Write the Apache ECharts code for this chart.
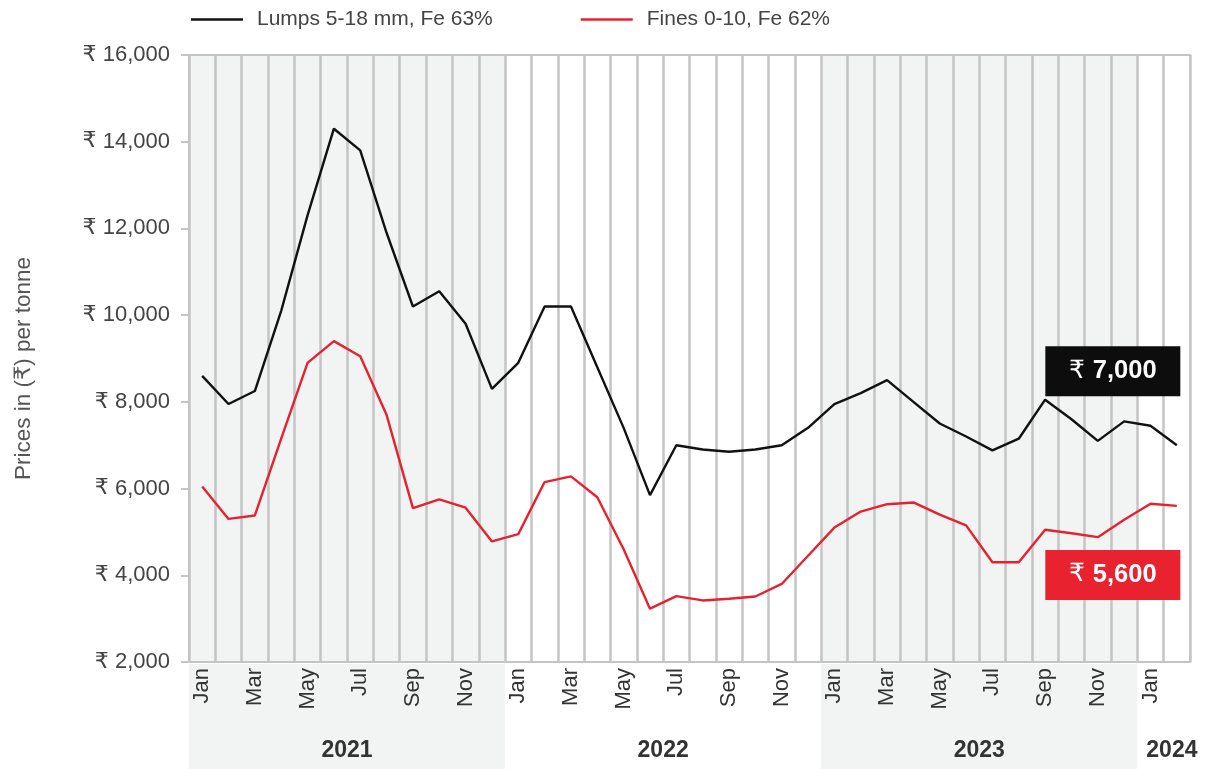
<!DOCTYPE html>
<html>
<head>
<meta charset="utf-8">
<script src="https://cdn.jsdelivr.net/npm/echarts@6/dist/echarts.min.js"></script>
<style>
  html, body { margin: 0; padding: 0; background: #ffffff; }
  #chart { width: 1208px; height: 769px; }
</style>
</head>
<body>
<div id="chart"></div>
<script>
// Monthly iron ore prices, Jan 2021 – Feb 2024 (₹ per tonne)
const monthNames = ['Jan', 'Feb', 'Mar', 'Apr', 'May', 'Jun', 'Jul', 'Aug', 'Sep', 'Oct', 'Nov', 'Dec'];
const yearLabels = ['2021', '2022', '2023', '2024'];
const monthsPerYear = [12, 12, 12, 2];

const lumpsPrices = [
  8600, 7950, 8250, 10100, 12300, 14300, 13800, 11900, 10200, 10550, 9800, 8300,
  8900, 10200, 10200, 8800, 7400, 5850, 7000, 6900, 6850, 6900, 7000, 7400,
  7950, 8200, 8500, 8000, 7500, 7200, 6880, 7150, 8050, 7600, 7100, 7550,
  7450, 7000
];
const finesPrices = [
  6050, 5300, 5380, 7150, 8900, 9400, 9050, 7700, 5550, 5750, 5560, 4780,
  4950, 6150, 6280, 5800, 4600, 3230, 3520, 3420, 3460, 3510, 3800, 4450,
  5100, 5470, 5640, 5680, 5400, 5150, 4300, 4300, 5050, 4970, 4880, 5280,
  5650, 5600
];

const seriesNames = ['Lumps 5-18 mm, Fe 63%', 'Fines 0-10, Fe 62%'];
const yMin = 2000, yMax = 16000, yStep = 2000;

// category labels such as "Jan 2021"
const categories = [];
const yearSpans = [];
yearLabels.forEach((y, i) => {
  const start = categories.length;
  for (let m = 0; m < monthsPerYear[i]; m++) categories.push(monthNames[m] + ' ' + y);
  yearSpans.push([start, categories.length, i]);
});

const FONT = '"Liberation Sans", Arial, "DejaVu Sans", sans-serif';
const RUPEE_FONT = '"DejaVu Sans", "Noto Sans", sans-serif';
const GRID_LINE = '#c4c4c4';
const SHADE = '#f2f3f3';

const chart = echarts.init(document.getElementById('chart'), null, { renderer: 'canvas' });

function lastPointMark(values, color, offsetY) {
  const last = values.length - 1;
  return {
    silent: true,
    symbol: 'rect',
    symbolSize: [135, 50],
    symbolOffset: [-64, offsetY],
    itemStyle: { color: color },
    label: {
      show: true,
      position: 'inside',
      formatter: p => '{r|₹ }{b|' + p.value.toLocaleString('en-US') + '}',
      rich: {
        r: { color: '#ffffff', fontSize: 25, fontFamily: RUPEE_FONT },
        b: { color: '#ffffff', fontSize: 25.5, fontWeight: 'bold', fontFamily: FONT }
      }
    },
    data: [{ coord: [categories[last], values[last]], value: values[last] }]
  };
}

chart.setOption({
  animation: false,
  backgroundColor: '#ffffff',
  textStyle: { fontFamily: FONT },
  legend: {
    left: 191,
    top: 9,
    padding: 0,
    icon: 'rect',
    itemWidth: 52,
    itemHeight: 2.5,
    itemGap: 88,
    textStyle: { fontSize: 21, color: '#444444', fontFamily: FONT, padding: [0, 0, 0, 9] },
    data: seriesNames
  },
  grid: {
    left: 189, right: 18, top: 55, bottom: 107,
    show: true, borderColor: GRID_LINE, borderWidth: 2, backgroundColor: 'transparent'
  },
  xAxis: [
    {
      type: 'category',
      data: categories,
      boundaryGap: true,
      axisLine: { show: true, lineStyle: { color: GRID_LINE, width: 2 } },
      axisTick: { show: false },
      splitLine: { show: true, interval: 0, lineStyle: { color: GRID_LINE, width: 2.5 } },
      axisLabel: {
        interval: 1,
        rotate: 90,
        margin: 6,
        fontSize: 22,
        color: '#333333',
        fontFamily: FONT,
        formatter: v => v.split(' ')[0]
      }
    },
    { type: 'value', min: 0, max: categories.length, show: false }
  ],
  yAxis: {
    type: 'value',
    min: yMin, max: yMax, interval: yStep,
    name: 'Prices in (₹) per tonne',
    nameLocation: 'middle',
    nameGap: 154,
    nameTextStyle: { fontSize: 22.5, color: '#555555', fontFamily: FONT, padding: [0, 20, 0, 0] },
    axisLine: { show: true, lineStyle: { color: GRID_LINE, width: 2 } },
    axisTick: { show: true, length: 8, lineStyle: { color: GRID_LINE, width: 2 } },
    splitLine: { show: false },
    axisLabel: {
      fontSize: 22, color: '#444444', margin: 19, fontFamily: FONT,
      formatter: v => '{r|₹} ' + v.toLocaleString('en-US'),
      rich: { r: { fontSize: 22, color: '#444444', fontFamily: RUPEE_FONT } }
    }
  },
  series: [
    {
      // alternating year shading inside the plot and in the year band below the axis
      type: 'custom',
      xAxisIndex: 1,
      yAxisIndex: 0,
      z: -1,
      silent: true,
      clip: false,
      data: yearSpans,
      renderItem: (params, api) => {
        const cs = params.coordSys;
        const x0 = api.coord([api.value(0), yMin])[0];
        const x1 = api.coord([api.value(1), yMin])[0];
        const idx = api.value(2);
        const shaded = idx % 2 === 0;
        const bandTop = cs.y + cs.height + 2;
        const children = [];
        if (shaded) {
          children.push({ type: 'rect', shape: { x: x0, y: cs.y, width: x1 - x0, height: cs.height }, style: { fill: SHADE } });
          children.push({ type: 'rect', shape: { x: x0, y: bandTop, width: x1 - x0, height: 769 - bandTop }, style: { fill: SHADE } });
        }
        const narrow = (x1 - x0) < 80;
        children.push({
          type: 'text',
          style: {
            text: yearLabels[idx],
            x: narrow ? x0 + 9 : (x0 + x1) / 2,
            y: 751,
            align: narrow ? 'left' : 'center',
            verticalAlign: 'middle',
            fontSize: 23,
            fontWeight: 'bold',
            fontFamily: FONT,
            fill: '#333333'
          }
        });
        return { type: 'group', children };
      }
    },
    {
      name: seriesNames[0],
      type: 'line',
      data: lumpsPrices,
      symbol: 'none',
      color: '#111111',
      lineStyle: { width: 2.4, color: '#111111' },
      z: 3,
      markPoint: lastPointMark(lumpsPrices, '#0d0d0d', -74)
    },
    {
      name: seriesNames[1],
      type: 'line',
      data: finesPrices,
      symbol: 'none',
      color: '#e52330',
      lineStyle: { width: 2.4, color: '#e52330' },
      z: 3,
      markPoint: lastPointMark(finesPrices, '#e8232f', 69)
    }
  ]
});
</script>
</body>
</html>
